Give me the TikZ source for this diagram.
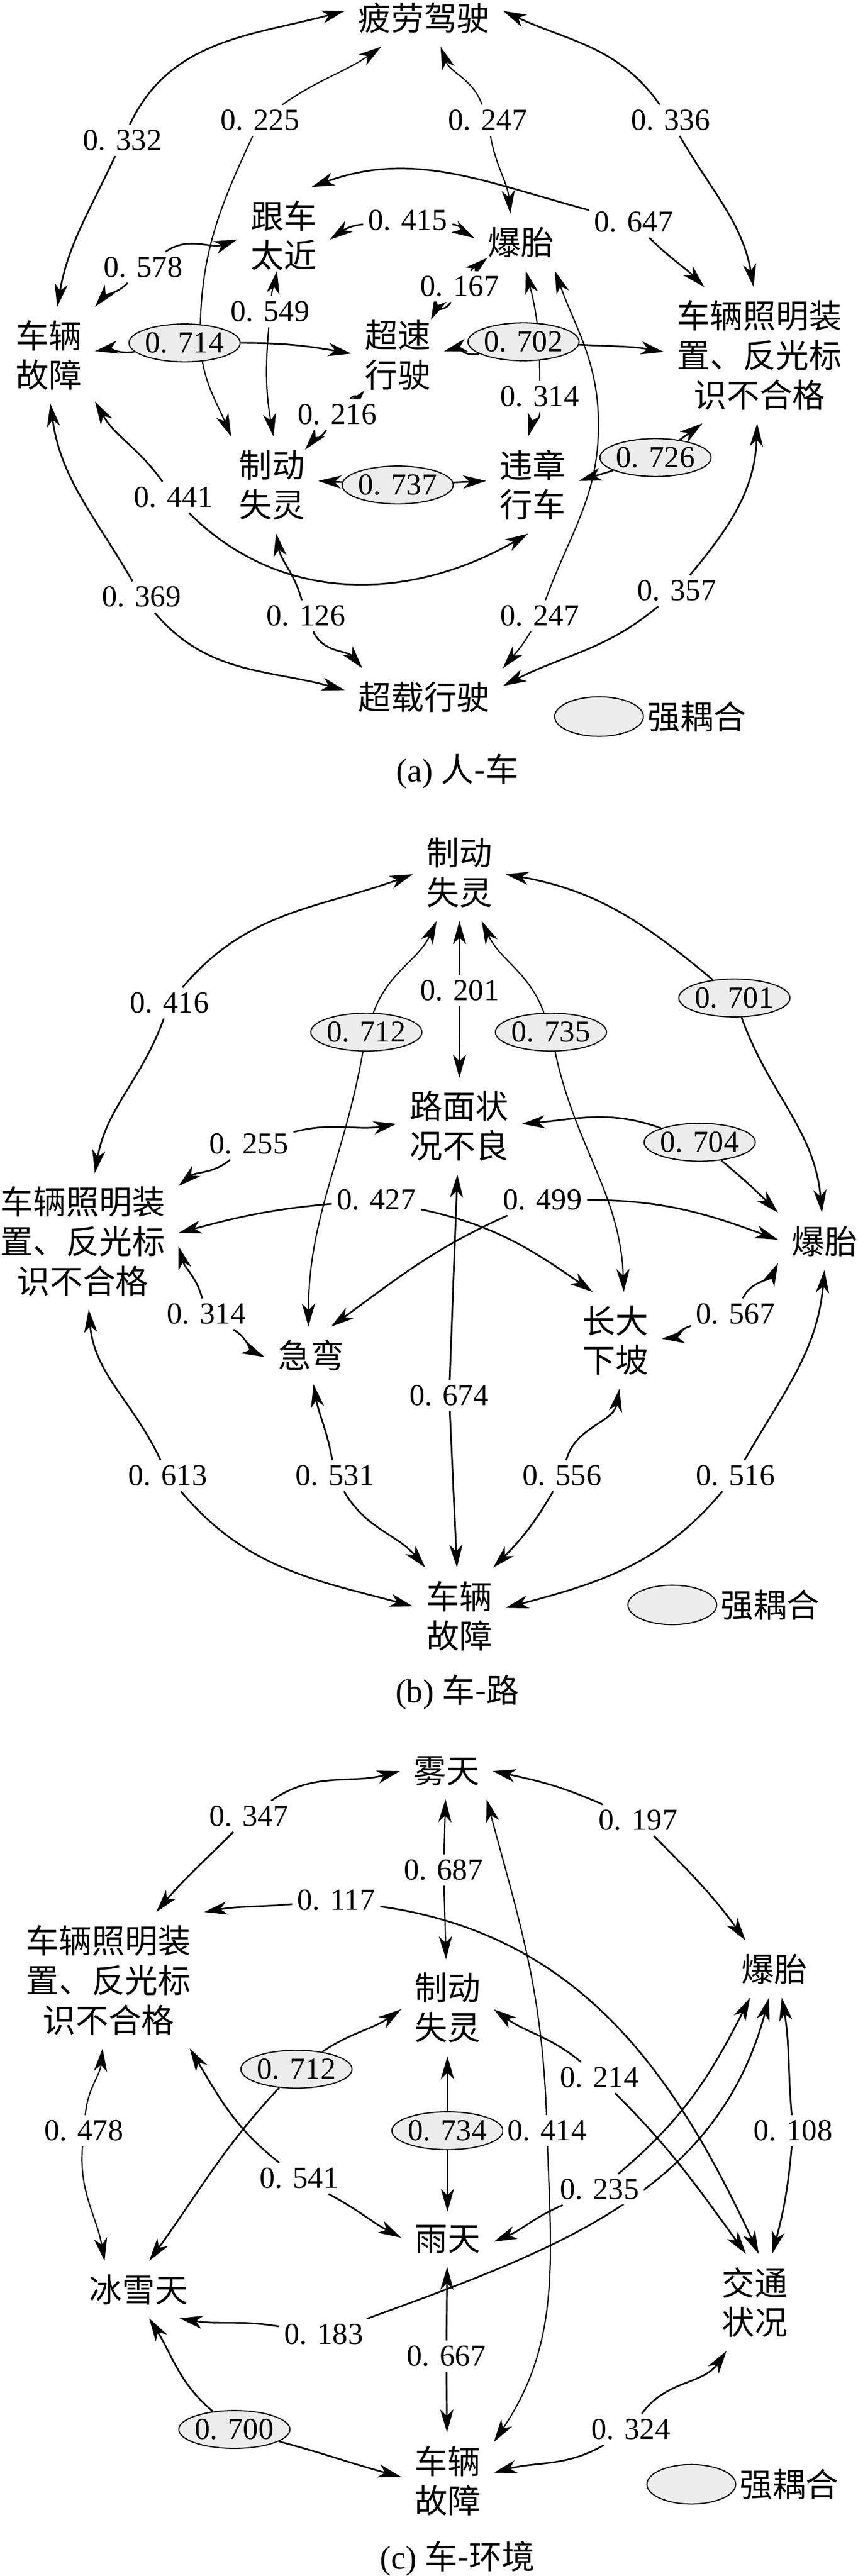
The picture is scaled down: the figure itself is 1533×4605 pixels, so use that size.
\documentclass[tikz,border=0pt]{standalone}
\usepackage{fontspec}
\setmainfont{Liberation Serif}
\newfontfamily\cjk{Noto Sans CJK SC}
\usetikzlibrary{arrows.meta,shapes.geometric,backgrounds}
\begin{document}
\begin{tikzpicture}[x=0.34pt,y=0.34pt,
		>={Stealth[length=14pt,width=8pt,inset=4pt]},
		txt/.style={font=\cjk\fontsize{20}{24}\selectfont, align=center, inner sep=8pt},
		num/.style={font=\fontsize{18.5}{20}\selectfont, fill=white, inner sep=3pt},
		strong/.style={ellipse, draw, line width=0.7pt, fill=gray!15, font=\fontsize{18.5}{20}\selectfont,
			inner sep=0pt, minimum width=60pt, minimum height=23pt},
		rel/.style={->, line width=1pt},
		relthin/.style={->, line width=0.75pt}]
	\useasboundingbox (0,0) rectangle (1533,-4605);
	% ---------------- (a) ----------------
	\node[txt] (a_pl) at (758,-32) {疲劳驾驶};
	\node[txt] (a_gc) at (507,-421) {跟车\\太近};
	\node[txt] (a_bt) at (931,-433) {爆胎};
	\node[txt] (a_zm) at (1358,-635) {车辆照明装\\置、反光标\\识不合格};
	\node[txt] (a_gz) at (87,-635) {车辆\\故障};
	\node[txt] (a_cs) at (711,-635) {超速\\行驶};
	\node[txt] (a_zd) at (486,-867) {制动\\失灵};
	\node[txt] (a_wz) at (952,-867) {违章\\行车};
	\node[txt] (a_cz) at (758,-1246) {超载行驶};
	% strong coupling
	\node[strong] (a_714) at (330,-613) {0. 714};
	\node[strong] (a_702) at (936,-611) {0. 702};
	\node[strong] (a_737) at (711,-867) {0. 737};
	\node[strong] (a_726) at (1172,-818) {0. 726};
	% values
	\node[num] (a_332) at (219,-251) {0. 332};
	\node[num] (a_225) at (465,-215) {0. 225};
	\node[num] (a_247u) at (872,-215) {0. 247};
	\node[num] (a_336) at (1199,-215) {0. 336};
	\node[num] (a_647) at (1133,-397) {0. 647};
	\node[num] (a_415) at (729,-394) {0. 415};
	\node[num] (a_578) at (256,-478) {0. 578};
	\node[num] (a_549) at (483,-557) {0. 549};
	\node[num] (a_167) at (822,-512) {0. 167};
	\node[num] (a_314) at (965,-709) {0. 314};
	\node[num] (a_216) at (603,-741) {0. 216};
	\node[num] (a_441) at (310,-889) {0. 441};
	\node[num] (a_369) at (253,-1067) {0. 369};
	\node[num] (a_126) at (547,-1101) {0. 126};
	\node[num] (a_247d) at (965,-1101) {0. 247};
	\node[num] (a_357) at (1210,-1056) {0. 357};
	% legend and caption
	\node[strong, minimum width=54pt, minimum height=24pt] (a_key) at (1071,-1281) {};
	\node[txt, inner sep=2pt, anchor=west] (a_keytxt) at (a_key.east) {强耦合};
	\node[font=\fontsize{20}{24}\selectfont] (a_cap) at (818,-1379) {(a) {\cjk 人-车}};
	\begin{scope}[on background layer]
		\draw[rel] (a_332) edge[out=245,in=80] (a_gz.80) edge[out=65,in=195] (a_pl.175);
		\draw[rel] (a_336) edge[out=125,in=-25] (a_pl.5) edge[out=-60,in=100] (a_zm.95);
		\draw[relthin] (a_225) to[out=245,in=90] (358,-600) to[out=-90,in=113] (a_zd.130);
		\draw[relthin] (a_225) to[out=35,in=215] (a_pl.214);
		\draw[relthin] (a_247u) edge[out=110,in=-70] (a_pl.-60) edge[out=-80,in=95] (a_bt.110);
		\draw[rel] (a_647) edge[out=165,in=20] (a_gc.60) edge[out=-45,in=135] (a_zm.129);
		\draw[rel] (a_415) edge[out=185,in=35] (a_gc.-5) edge[out=-5,in=150] (a_bt.175);
		\draw[rel] (a_578) edge[out=225,in=50] (a_gz.north east) edge[out=35,in=200] (a_gc.185);
		\draw[relthin] (a_549) edge[out=85,in=-100] ([xshift=-4pt,yshift=8pt]a_gc.south) edge[out=-95,in=100] (a_zd.88);
		\draw[rel] (a_167) edge[out=55,in=-140] ([xshift=8pt,yshift=8pt]a_bt.south west)
			edge[out=-120,in=65] ([xshift=-8pt,yshift=-8pt]a_cs.north east);
		\draw[rel] (a_714) edge[out=190,in=10] (a_gz.5) edge[out=0,in=170] (a_cs.178);
		\draw[rel] (a_702) edge[out=195,in=15] (a_cs.5) edge[out=-3,in=170] (a_zm.178);
		\draw[relthin] (a_314) edge[out=90,in=-75] (a_bt.-80) edge[out=-90,in=75] (a_wz.95);
		\draw[rel] (a_216) edge[out=50,in=-130] ([xshift=8pt,yshift=8pt]a_cs.south west)
			edge[out=-125,in=50] ([xshift=-8pt,yshift=-8pt]a_zd.north east);
		\draw[rel] (a_737) edge (a_zd.5) edge (a_wz.175);
		\draw[rel] (a_726) edge (a_wz.5) edge (a_zm.-130);
		\draw[rel] (a_441) edge[out=125,in=-60] (a_gz.-45) edge[out=-45,in=210] (a_wz.-95);
		\draw[rel] (a_369) edge[out=120,in=-82] (a_gz.-88) edge[out=-50,in=165] (a_cz.175);
		\draw[rel] (a_126) edge[out=105,in=-80] (a_zd.-85) edge[out=-65,in=130] (a_cz.155);
		\draw[relthin] (a_247d) to[out=70,in=-90] (1070,-760) to[out=90,in=-70] (a_bt.-40);
		\draw[relthin] (a_247d) to[out=-120,in=50] (a_cz.20);
		\draw[rel] (a_357) edge[out=50,in=-92] (a_zm.-92) edge[out=-140,in=27] (a_cz.8);
	\end{scope}
	% ---------------- (b) ----------------
	\node[txt] (b_zd) at (821,-1560) {制动\\失灵};
	\node[txt] (b_lm) at (821,-2013) {路面状\\况不良};
	\node[txt] (b_zm) at (148,-2219) {车辆照明装\\置、反光标\\识不合格};
	\node[txt] (b_bt) at (1474,-2219) {爆胎};
	\node[txt] (b_jw) at (556,-2423) {急弯};
	\node[txt] (b_cd) at (1100,-2396) {长大\\下坡};
	\node[txt] (b_gz) at (821,-2889) {车辆\\故障};
	% strong coupling
	\node[strong] (b_712) at (655,-1845) {0. 712};
	\node[strong] (b_735) at (985,-1845) {0. 735};
	\node[strong] (b_701) at (1313,-1784) {0. 701};
	\node[strong] (b_704) at (1251,-2042) {0. 704};
	% values
	\node[num] (b_416) at (303,-1793) {0. 416};
	\node[num] (b_201) at (822,-1771) {0. 201};
	\node[num] (b_255) at (445,-2045) {0. 255};
	\node[num] (b_427) at (673,-2145) {0. 427};
	\node[num] (b_499) at (970,-2145) {0. 499};
	\node[num] (b_314) at (369,-2349) {0. 314};
	\node[num] (b_567) at (1315,-2349) {0. 567};
	\node[num] (b_674) at (803,-2495) {0. 674};
	\node[num] (b_613) at (300,-2638) {0. 613};
	\node[num] (b_531) at (599,-2638) {0. 531};
	\node[num] (b_556) at (1005,-2638) {0. 556};
	\node[num] (b_516) at (1315,-2638) {0. 516};
	% legend and caption
	\node[strong, minimum width=54pt, minimum height=24pt] (b_key) at (1202,-2869) {};
	\node[txt, inner sep=2pt, anchor=west] (b_keytxt) at (b_key.east) {强耦合};
	\node[font=\fontsize{20}{24}\selectfont] (b_cap) at (818,-3025) {(b) {\cjk 车-路}};
	\begin{scope}[on background layer]
		\draw[rel] (b_416) edge[out=50,in=200] (b_zd.182) edge[out=-110,in=80] (b_zm.80);
		\draw[rel] (b_701) edge[out=140,in=-10] (b_zd.-2) edge[out=-70,in=95] (b_bt.95);
		\draw[relthin] (b_712) edge[out=70,in=-115] (b_zd.-115) edge[out=-100,in=90] (b_jw.95);
		\draw[relthin] (b_201) edge (b_zd) edge (b_lm);
		\draw[relthin] (b_735) edge[out=110,in=-65] (b_zd.-65) edge[out=-78,in=92] (b_cd.80);
		\draw[rel] (b_255) edge[out=15,in=190] (b_lm.178) edge[out=-140,in=40] (b_zm.30);
		\draw[rel] (b_704) edge[out=160,in=5] (b_lm.2) edge[out=-40,in=135] (b_bt.north west);
		\draw[rel] (b_427) edge[out=185,in=15] (b_zm.5) edge[out=-12,in=145] (b_cd.115);
		\draw[rel] (b_499) edge[out=0,in=160] (b_bt.178) edge[out=204,in=36] (b_jw.55);
		\draw[rel] (b_674) edge (b_lm) edge (b_gz);
		\draw[rel] (b_314) edge[out=105,in=-74] (b_zm.-3) edge[out=-30,in=155] (b_jw.182);
		\draw[rel] (b_567) edge[out=65,in=-115] (b_bt.-155) edge[out=195,in=5] (b_cd.2);
		\draw[rel] (b_613) edge[out=115,in=-85] (b_zm.-85) edge[out=-50,in=165] (b_gz.168);
		\draw[rel] (b_531) edge[out=100,in=-80] (b_jw.-85) edge[out=-60,in=130] (b_gz.125);
		\draw[rel] (b_556) edge[out=75,in=-100] (b_cd.-85) edge[out=-120,in=45] (b_gz.55);
		\draw[rel] (b_516) edge[out=60,in=-95] (b_bt.-90) edge[out=-130,in=15] (b_gz.10);
	\end{scope}
	% ---------------- (c) ----------------
	\node[txt] (c_wt) at (798,-3166) {雾天};
	\node[txt] (c_zm) at (194,-3540) {车辆照明装\\置、反光标\\识不合格};
	\node[txt] (c_bt) at (1384,-3520) {爆胎};
	\node[txt] (c_zd) at (800,-3589) {制动\\失灵};
	\node[txt] (c_yt) at (800,-4003) {雨天};
	\node[txt] (c_bx) at (248,-4093) {冰雪天};
	\node[txt] (c_jt) at (1349,-4116) {交通\\状况};
	\node[txt] (c_gz) at (800,-4435) {车辆\\故障};
	% strong coupling
	\node[strong] (c_712) at (530,-3699) {0. 712};
	\node[strong] (c_734) at (800,-3809) {0. 734};
	\node[strong] (c_700) at (419,-4343) {0. 700};
	% values
	\node[num] (c_347) at (445,-3247) {0. 347};
	\node[num] (c_197) at (1141,-3254) {0. 197};
	\node[num] (c_687) at (793,-3343) {0. 687};
	\node[num] (c_117) at (601,-3397) {0. 117};
	\node[num] (c_214) at (1072,-3714) {0. 214};
	\node[num] (c_414) at (978,-3809) {0. 414};
	\node[num] (c_478) at (150,-3809) {0. 478};
	\node[num] (c_108) at (1418,-3809) {0. 108};
	\node[num] (c_541) at (535,-3894) {0. 541};
	\node[num] (c_235) at (1072,-3914) {0. 235};
	\node[num] (c_183) at (579,-4173) {0. 183};
	\node[num] (c_667) at (798,-4212) {0. 667};
	\node[num] (c_324) at (1128,-4343) {0. 324};
	% legend and caption
	\node[strong, minimum width=54pt, minimum height=24pt] (c_key) at (1236,-4441) {};
	\node[txt, inner sep=2pt, anchor=west] (c_keytxt) at (c_key.east) {强耦合};
	\node[font=\fontsize{20}{24}\selectfont] (c_cap) at (818,-4574) {(c) {\cjk 车-环境}};
	\begin{scope}[on background layer]
		\draw[rel] (c_347) edge[out=35,in=195] (c_wt.180) edge[out=225,in=50] (c_zm.55);
		\draw[rel] (c_197) edge[out=156,in=-12] (c_wt.0) edge[out=-45,in=126] (c_bt.135);
		\draw[relthin] (c_687) edge (c_wt) edge (c_zd);
		\draw[relthin] (c_414) edge[out=92,in=-75] (c_wt.-35) edge[out=-88,in=56] (c_gz.40);
		\draw[rel] (c_117) edge[out=185,in=10] (c_zm.north east) edge[out=-8,in=115] (c_jt.85);
		\draw[rel] (c_712) edge[out=34,in=215] (c_zd.182) edge[out=227,in=54] (c_bx.70);
		\draw[rel] (c_734) edge (c_zd) edge (c_yt);
		\draw[rel] (c_214) edge[out=140,in=-36] (c_zd.-2) edge[out=-45,in=126] (c_jt.100);
		\draw[relthin] (c_478) edge[out=85,in=-95] (c_zm.-95) edge[out=-95,in=100] (c_bx.140);
		\draw[rel] (c_541) edge[out=142,in=-59] (c_zm.-40) edge[out=-28,in=152] (c_yt.178);
		\draw[rel] (c_235) edge[out=40,in=-117] (c_bt.-130) edge[out=203,in=23] (c_yt.-3);
		\draw[rel] (c_183) edge[out=20,in=-105] (c_bt.-100) edge[out=170,in=-10] (c_bx.-35);
		\draw[rel] (c_108) edge[out=95,in=-80] (c_bt.-75) edge[out=-95,in=75] (c_jt.70);
		\draw[rel] (c_667) edge (c_yt) edge (c_gz);
		\draw[rel] (c_700) edge[out=140,in=-58] (c_bx.-70) edge[out=-15,in=165] (c_gz.175);
		\draw[rel] (c_324) edge[out=55,in=-125] (c_jt.-120) edge[out=-150,in=15] (c_gz.10);
	\end{scope}
\end{tikzpicture}
\end{document}
